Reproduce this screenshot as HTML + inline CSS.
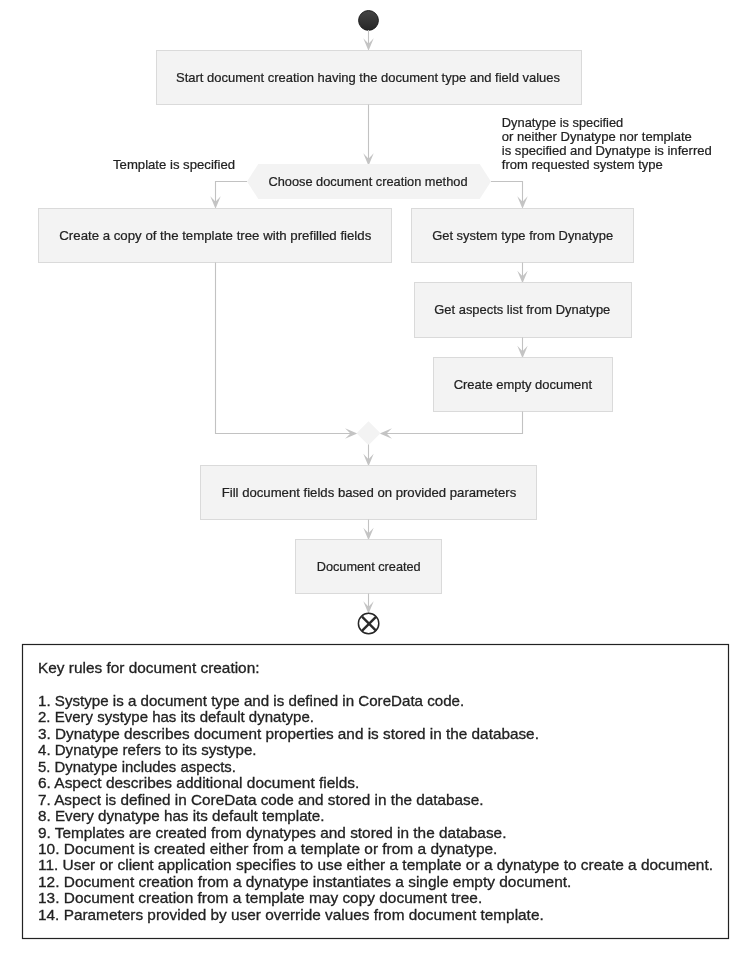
<!DOCTYPE html>
<html><head><meta charset="utf-8">
<style>
html,body{margin:0;padding:0;background:#fff;}
svg{display:block;will-change:transform;}
.t{font-family:"Liberation Sans",sans-serif;font-size:13px;fill:#222;stroke:#222;stroke-width:0.22;}
.n{font-family:"Liberation Sans",sans-serif;font-size:15px;fill:#222;stroke:#222;stroke-width:0.3;}
.box{fill:#f3f3f3;stroke:#dadada;stroke-width:1;}
.ln{stroke:#c2c2c2;stroke-width:1.1;fill:none;}
.ah{fill:#c4c4c4;stroke:none;}
</style></head>
<body>
<svg width="752" height="962" viewBox="0 0 752 962">
<!-- start -->
<defs><linearGradient id="g" x1="0" y1="0" x2="0" y2="1"><stop offset="0" stop-color="#454545"/><stop offset="1" stop-color="#262626"/></linearGradient></defs>
<circle cx="368.5" cy="20.45" r="9.9" fill="url(#g)" stroke="#1c1c1c" stroke-width="1"/>
<line class="ln" x1="368.5" y1="30" x2="368.5" y2="45"/>
<polygon class="ah" points="363.3,38.2 368.5,50.8 373.7,38.2 368.5,43.7"/>

<rect class="box" x="156.5" y="50.5" width="425" height="54"/>
<text class="t" x="176" y="82" textLength="384" lengthAdjust="spacingAndGlyphs">Start document creation having the document type and field values</text>

<line class="ln" x1="368.5" y1="104.5" x2="368.5" y2="160"/>
<polygon class="ah" points="363.3,153.2 368.5,165.8 373.7,153.2 368.5,158.7"/>

<!-- hexagon -->
<polygon fill="#f3f3f3" points="247,181.5 258.3,164 479.7,164 491,181.5 479.7,199 258.3,199"/>
<text class="t" x="268.5" y="185.6" textLength="199" lengthAdjust="spacingAndGlyphs">Choose document creation method</text>

<text class="t" x="113" y="169" textLength="122" lengthAdjust="spacingAndGlyphs">Template is specified</text>
<text class="t" x="501.8" y="126.9" textLength="121.4" lengthAdjust="spacingAndGlyphs">Dynatype is specified</text>
<text class="t" x="501.8" y="140.8" textLength="190" lengthAdjust="spacingAndGlyphs">or neither Dynatype nor template</text>
<text class="t" x="501.8" y="154.7" textLength="210" lengthAdjust="spacingAndGlyphs">is specified and Dynatype is inferred</text>
<text class="t" x="501.8" y="168.6" textLength="161" lengthAdjust="spacingAndGlyphs">from requested system type</text>

<polyline class="ln" points="247,181.5 215.5,181.5 215.5,203"/>
<polygon class="ah" points="210.3,196.2 215.5,208.8 220.7,196.2 215.5,201.7"/>
<polyline class="ln" points="491,181.5 522.5,181.5 522.5,203"/>
<polygon class="ah" points="517.3,196.2 522.5,208.8 527.7,196.2 522.5,201.7"/>

<rect class="box" x="38.5" y="208.5" width="353" height="54"/>
<text class="t" x="59.3" y="240" textLength="312" lengthAdjust="spacingAndGlyphs">Create a copy of the template tree with prefilled fields</text>

<rect class="box" x="411.5" y="208.5" width="222" height="54"/>
<text class="t" x="432.2" y="240" textLength="181" lengthAdjust="spacingAndGlyphs">Get system type from Dynatype</text>

<line class="ln" x1="522.5" y1="262.5" x2="522.5" y2="277"/>
<polygon class="ah" points="517.3,270.7 522.5,283.3 527.7,270.7 522.5,276.2"/>

<rect class="box" x="414.5" y="282.5" width="217" height="55"/>
<text class="t" x="434.3" y="313.5" textLength="176" lengthAdjust="spacingAndGlyphs">Get aspects list from Dynatype</text>

<line class="ln" x1="522.5" y1="337.5" x2="522.5" y2="352"/>
<polygon class="ah" points="517.3,345.7 522.5,358.3 527.7,345.7 522.5,351.2"/>

<rect class="box" x="433.5" y="357.5" width="179" height="54"/>
<text class="t" x="453.7" y="389" textLength="138.3" lengthAdjust="spacingAndGlyphs">Create empty document</text>

<polyline class="ln" points="522.5,411.5 522.5,433.5 385,433.5"/>
<polygon class="ah" points="392,428.3 379.7,433.5 392,438.7 386.5,433.5"/>
<polyline class="ln" points="215.5,262.5 215.5,433.5 352,433.5"/>
<polygon class="ah" points="345,428.3 357.3,433.5 345,438.7 350.5,433.5"/>

<polygon fill="#f3f3f3" points="368.5,421.3 380.5,433.3 368.5,445.3 356.5,433.3"/>

<line class="ln" x1="368.5" y1="444.5" x2="368.5" y2="460"/>
<polygon class="ah" points="363.3,453.7 368.5,466.3 373.7,453.7 368.5,459.2"/>

<rect class="box" x="200.5" y="465.5" width="336" height="54"/>
<text class="t" x="221.7" y="497" textLength="294.6" lengthAdjust="spacingAndGlyphs">Fill document fields based on provided parameters</text>

<line class="ln" x1="368.5" y1="519.5" x2="368.5" y2="534"/>
<polygon class="ah" points="363.3,527.7 368.5,540.3 373.7,527.7 368.5,533.2"/>

<rect class="box" x="295.5" y="539.5" width="146" height="54"/>
<text class="t" x="316.7" y="571" textLength="104" lengthAdjust="spacingAndGlyphs">Document created</text>

<line class="ln" x1="368.5" y1="593.5" x2="368.5" y2="608"/>
<polygon class="ah" points="363.3,601.2 368.5,613.8 373.7,601.2 368.5,606.7"/>

<!-- end -->
<circle cx="368.6" cy="623.5" r="10.2" fill="none" stroke="#262626" stroke-width="1.5"/>
<line x1="362" y1="616.6" x2="376.2" y2="630.8" stroke="#2a2a2a" stroke-width="2.4"/>
<line x1="376.2" y1="616.6" x2="362" y2="630.8" stroke="#2a2a2a" stroke-width="2.4"/>

<!-- note -->
<rect x="22.5" y="644.5" width="706" height="294" fill="#fff" stroke="#222" stroke-width="1.2"/>
<text class="n" x="38" y="672.8" textLength="221.5" lengthAdjust="spacingAndGlyphs">Key rules for document creation:</text>
<text class="n" x="38" y="705.9" textLength="426.2" lengthAdjust="spacingAndGlyphs">1. Systype is a document type and is defined in CoreData code.</text>
<text class="n" x="38" y="722.35" textLength="275.9" lengthAdjust="spacingAndGlyphs">2. Every systype has its default dynatype.</text>
<text class="n" x="38" y="738.8" textLength="500.9" lengthAdjust="spacingAndGlyphs">3. Dynatype describes document properties and is stored in the database.</text>
<text class="n" x="38" y="755.25" textLength="218.5" lengthAdjust="spacingAndGlyphs">4. Dynatype refers to its systype.</text>
<text class="n" x="38" y="771.7" textLength="197.9" lengthAdjust="spacingAndGlyphs">5. Dynatype includes aspects.</text>
<text class="n" x="38" y="788.15" textLength="321.4" lengthAdjust="spacingAndGlyphs">6. Aspect describes additional document fields.</text>
<text class="n" x="38" y="804.6" textLength="445.4" lengthAdjust="spacingAndGlyphs">7. Aspect is defined in CoreData code and stored in the database.</text>
<text class="n" x="38" y="821.05" textLength="286.5" lengthAdjust="spacingAndGlyphs">8. Every dynatype has its default template.</text>
<text class="n" x="38" y="837.5" textLength="468.4" lengthAdjust="spacingAndGlyphs">9. Templates are created from dynatypes and stored in the database.</text>
<text class="n" x="38" y="853.95" textLength="459.4" lengthAdjust="spacingAndGlyphs">10. Document is created either from a template or from a dynatype.</text>
<text class="n" x="38" y="870.4" textLength="675" lengthAdjust="spacingAndGlyphs">11. User or client application specifies to use either a template or a dynatype to create a document.</text>
<text class="n" x="38" y="886.85" textLength="533.4" lengthAdjust="spacingAndGlyphs">12. Document creation from a dynatype instantiates a single empty document.</text>
<text class="n" x="38" y="903.3" textLength="444.2" lengthAdjust="spacingAndGlyphs">13. Document creation from a template may copy document tree.</text>
<text class="n" x="38" y="919.75" textLength="505.7" lengthAdjust="spacingAndGlyphs">14. Parameters provided by user override values from document template.</text>
</svg>
</body></html>
